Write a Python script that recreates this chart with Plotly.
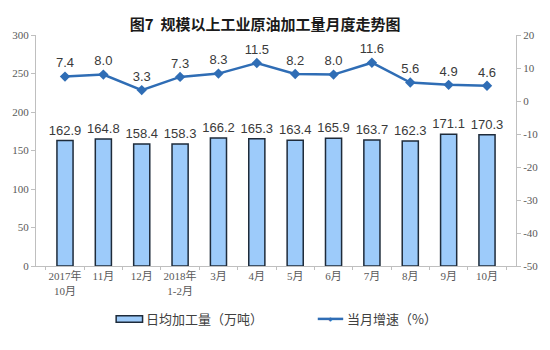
import plotly.graph_objects as go

# Monthly crude-oil processing: daily average output (bars) and YoY growth (line)
months = ["2017年<br>10月", "11月", "12月", "2018年<br>1-2月", "3月", "4月",
          "5月", "6月", "7月", "8月", "9月", "10月"]
daily_output = [162.9, 164.8, 158.4, 158.3, 166.2, 165.3,
                163.4, 165.9, 163.7, 162.3, 171.1, 170.3]
yoy_growth = [7.4, 8.0, 3.3, 7.3, 8.3, 11.5, 8.2, 8.0, 11.6, 5.6, 4.9, 4.6]

left_ticks = [0, 50, 100, 150, 200, 250, 300]
right_ticks = [-50, -40, -30, -20, -10, 0, 10, 20]

title_text = "<b>图7  规模以上工业原油加工量月度走势图</b>"
bar_name = "日均加工量（万吨）"
line_name = "当月增速（%）"

BAR_FILL = "#9DCBFA"
BAR_EDGE = "#1E2B3A"
LINE_BLUE = "#2F6DB5"
LABEL_GREY = "#3A3A3A"
AXIS_GREY = "#BFBFBF"
TICK_FONT = dict(family="Liberation Serif, Noto Sans CJK SC", size=11, color="#595959")
CJK = "Noto Sans CJK SC"

fig = go.Figure()

fig.add_trace(go.Bar(
    x=months, y=daily_output, name=bar_name,
    width=0.42,
    marker=dict(color=BAR_FILL, line=dict(color=BAR_EDGE, width=1.5)),
    text=[f"{v:.1f}" for v in daily_output],
    textposition="outside",
    constraintext="none",
    textfont=dict(family="Liberation Sans", size=13, color=LABEL_GREY),
    cliponaxis=False,
    showlegend=False,
))

fig.add_trace(go.Scatter(
    x=months, y=yoy_growth, name=line_name, yaxis="y2",
    mode="lines+markers+text",
    line=dict(color=LINE_BLUE, width=2.5),
    marker=dict(symbol="diamond", size=8, color=LINE_BLUE),
    text=[f"{v:.1f}" for v in yoy_growth],
    textposition="top center",
    textfont=dict(family="Liberation Sans", size=13, color=LABEL_GREY),
    cliponaxis=False,
    showlegend=False,
))

# Hand-drawn legend beneath the axis
legend_y = -0.229
shapes = [
    dict(type="rect", xref="paper", yref="paper",
         x0=0.167, x1=0.222, y0=legend_y - 0.014, y1=legend_y + 0.014,
         fillcolor=BAR_FILL, line=dict(color=BAR_EDGE, width=1.5)),
    dict(type="line", xref="paper", yref="paper",
         x0=0.587, x1=0.640, y0=legend_y, y1=legend_y,
         line=dict(color=LINE_BLUE, width=2.5)),
]
annotations = [
    dict(text=bar_name, xref="paper", yref="paper", x=0.226, y=legend_y,
         xanchor="left", yanchor="middle", showarrow=False,
         font=dict(family=CJK, size=13, color="#404040")),
    dict(text=line_name, xref="paper", yref="paper", x=0.644, y=legend_y,
         xanchor="left", yanchor="middle", showarrow=False,
         font=dict(family=CJK, size=13, color="#404040")),
    dict(text="◆", xref="paper", yref="paper", x=0.6135, y=legend_y,
         xanchor="center", yanchor="middle", showarrow=False,
         font=dict(size=6, color=LINE_BLUE)),
]

fig.update_layout(
    width=550, height=350,
    margin=dict(l=34, r=32, t=35, b=84),
    paper_bgcolor="white", plot_bgcolor="white",
    title=dict(text=title_text, x=0.482, xanchor="center", y=0.929,
               yanchor="middle", font=dict(family=CJK, size=15, color="#1A1A1A")),
    xaxis=dict(
        type="category", showgrid=False, showline=True, linecolor=AXIS_GREY,
        ticks="outside", tickson="boundaries", ticklen=3, tickcolor=AXIS_GREY,
        tickangle=0,
        tickfont=dict(family="Liberation Serif, Noto Sans CJK SC", size=11, color="#595959"),
    ),
    yaxis=dict(
        range=[0, 300], tickvals=left_ticks, showgrid=False, zeroline=False,
        showline=True, linecolor=AXIS_GREY, ticks="outside", ticklen=4,
        tickcolor=AXIS_GREY, tickfont=TICK_FONT,
    ),
    yaxis2=dict(
        range=[-50, 20], tickvals=right_ticks,
        ticktext=[str(v) for v in right_ticks],
        overlaying="y", side="right",
        showgrid=False, zeroline=False, showline=True, linecolor=AXIS_GREY,
        ticks="outside", ticklen=4, tickcolor=AXIS_GREY, tickfont=TICK_FONT,
    ),
    shapes=shapes,
    annotations=annotations,
    showlegend=False,
)

fig.write_html("out.html")
